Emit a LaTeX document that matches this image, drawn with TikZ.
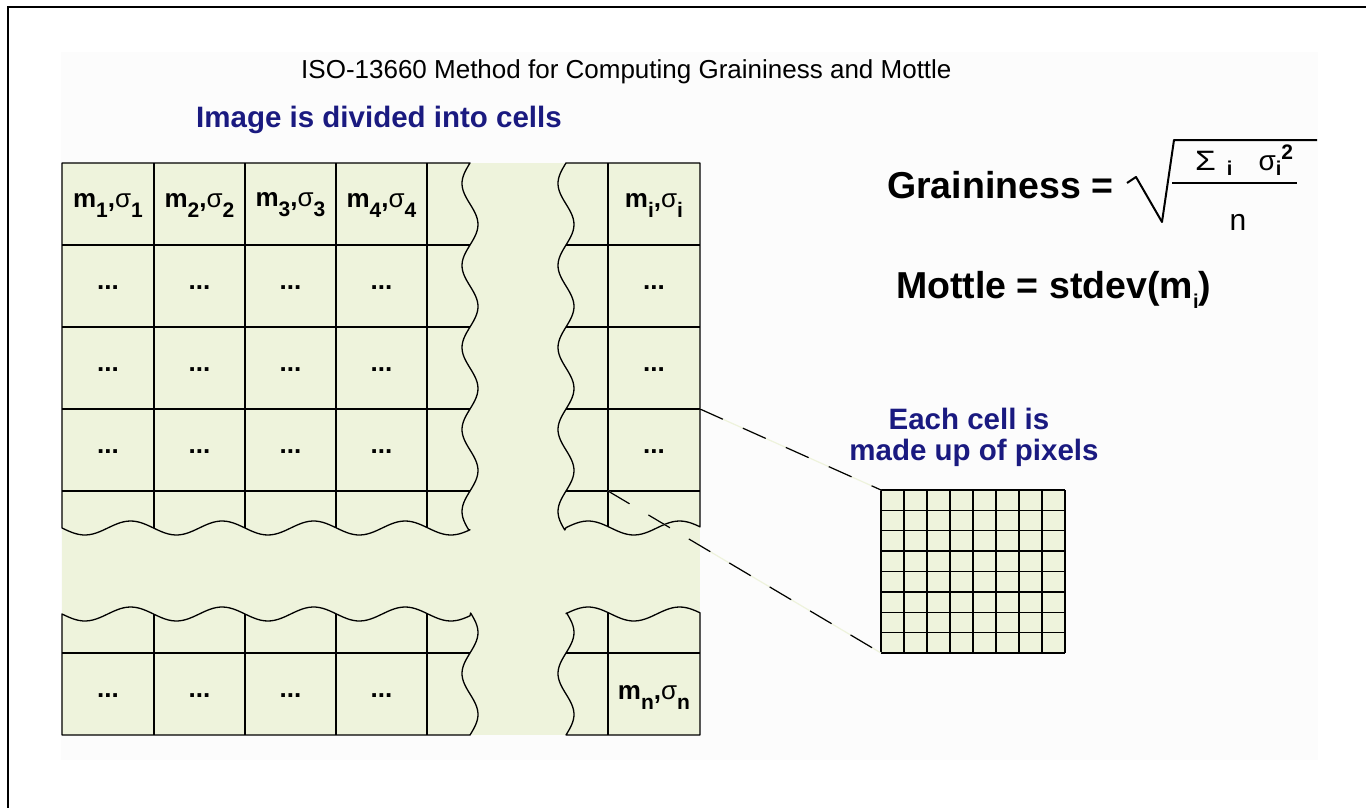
\documentclass[tikz,border=0pt]{standalone}
\usepackage{fontspec}
\setmainfont{Liberation Sans}
\usetikzlibrary{positioning}
\definecolor{cellgreen}{RGB}{238,243,220}
\definecolor{titleblue}{RGB}{26,26,128}
\definecolor{panelgray}{RGB}{252,252,252}
\newcommand{\lo}[1]{\raisebox{-10pt}{\fontsize{21}{21}\selectfont\bfseries #1}}
\newcommand{\msig}[1]{m\lo{#1},{\mdseries σ}\lo{#1}}
\newcommand{\fsub}[1]{\raisebox{-5pt}{\bfseries\fontsize{20}{20}\selectfont #1}}
% the four torn blocks of the cell table (4.3902 = 360/82, 3.9344 = 360/91.5)
\newcommand{\blockUL}{(62,163) -- (470,163) -- plot[domain=163:530,samples=120] ({470-8*sin(4.3902*(\x-163))},\x) -- plot[domain=470:62,samples=120] (\x,{528+7*sin(3.9344*(\x-62))}) -- cycle}
\newcommand{\blockUR}{(566,163) -- (700,163) -- (700,527) -- plot[domain=700:566,samples=40] (\x,{528+7*sin(3.9344*(\x-62))}) -- plot[domain=530:163,samples=120] ({566-8*sin(4.3902*(\x-163))},\x) -- cycle}
\newcommand{\blockLL}{plot[domain=62:470,samples=120] (\x,{614+7*sin(3.9344*(\x-62))}) -- plot[domain=613:735,samples=40] ({470-8*sin(4.3902*(\x-653))},\x) -- (62,735) -- cycle}
\newcommand{\blockLR}{plot[domain=566:700,samples=40] (\x,{614+7*sin(3.9344*(\x-62))}) -- (700,735) -- (566,735) -- plot[domain=735:613,samples=40] ({566-8*sin(4.3902*(\x-653))},\x) -- cycle}

\begin{document}
\begin{tikzpicture}[x=1pt,y=-1pt,every node/.style={inner sep=0pt},
  gridline/.style={line width=1.4pt},
  edgeline/.style={line width=1.3pt,line join=round},
  zoomline/.style={line width=1.2pt,dash pattern=on 25pt off 22pt},
  navylabel/.style={text=titleblue,font=\bfseries\fontsize{29.5}{30}\selectfont},
  celllabel/.style={font=\bfseries\fontsize{26}{26}\selectfont},
  bigformula/.style={font=\bfseries\fontsize{37.5}{38}\selectfont}]
\useasboundingbox (0,0) rectangle (1366,808);
\fill[panelgray] (61,52) rectangle (1318,760);
\draw[line width=2pt] (8,808) -- (8,7) -- (1366,7);
\node[anchor=base west,font=\fontsize{26}{26}\selectfont] (title) at (301,78) {ISO-13660 Method for Computing Graininess and Mottle};
\node[navylabel,anchor=base west] (divided) at (196,128) {Image is divided into cells};
% cell table
\fill[cellgreen] (62,163) rectangle (700,735);
\begin{scope}
\clip \blockUL \blockUR \blockLL \blockLR;
\foreach \c in {154,245,336,427,608} \draw[gridline] (\c,163) -- (\c,735);
\foreach \r in {245,327,409,491,653} \draw[gridline] (62,\r) -- (700,\r);
\end{scope}
\draw[edgeline] \blockUL \blockUR \blockLL \blockLR;
\node[celllabel] (m1) at (108,205) {\msig{1}};
\node[celllabel] (m2) at (199.5,205) {\msig{2}};
\node[celllabel] (m3) at (290.5,205) {\msig{3}};
\node[celllabel] (m4) at (381.5,205) {\msig{4}};
\node[celllabel] (mi) at (654,205) {\msig{i}};
\foreach \cx [count=\ci] in {108,199.5,290.5,381.5,654}
  \foreach \ry [count=\rj] in {288,370,452}
    \node[celllabel] (dots\ci-\rj) at (\cx,\ry) {...};
\foreach \cx [count=\ci] in {108,199.5,290.5,381.5}
  \node[celllabel] (low\ci) at (\cx,696) {...};
\node[celllabel] (mn) at (654,697) {\msig{n}};
% pixel grid
\coordinate (pixNW) at (881,490);
\coordinate (pixSW) at (881,653);
\fill[cellgreen] (881,490) rectangle (1065,653);
\foreach \k in {0,...,8}{
  \draw[gridline] (881+23*\k,490) -- (881+23*\k,653);
  \draw[gridline] (881,490+20.375*\k) -- (1065,490+20.375*\k);
}
\coordinate (cellNE) at (700,409);
\coordinate (cellSW) at (608,491);
\draw[line width=1.2pt,cellgreen] (cellNE) -- (pixNW) (cellSW) -- (pixSW);
\draw[zoomline] (cellNE) -- (pixNW);
\draw[zoomline] (cellSW) -- (pixSW);
\node[navylabel,anchor=base] (eachcell) at (969,429) {Each cell is};
\node[navylabel,anchor=base] (madeup) at (974,460) {made up of pixels};
% formulas
\node[bigformula,anchor=base west] (graininess) at (887,198) {Graininess =};
\draw[line width=2pt,line join=round] (1127,183) -- (1136,177) -- (1162,222) -- (1174,140) -- (1317,140);
\draw[line width=1.5pt] (1172,183) -- (1297,183);
\node[anchor=base west,font=\fontsize{28}{28}\selectfont] (numer) at (1195,170) {\scalebox{1.2}[1]{Σ}\hspace{11pt}\fsub{i}\hspace{26pt}σ\fsub{i}\raisebox{11pt}{\bfseries\fontsize{21}{21}\selectfont 2}};
\node[anchor=base,font=\fontsize{30}{30}\selectfont] (denom) at (1238,230) {n};
\node[bigformula,anchor=base west] (mottle) at (896,298) {Mottle = stdev(m\raisebox{-10pt}{\fontsize{20}{20}\selectfont i})};
\end{tikzpicture}
\end{document}
